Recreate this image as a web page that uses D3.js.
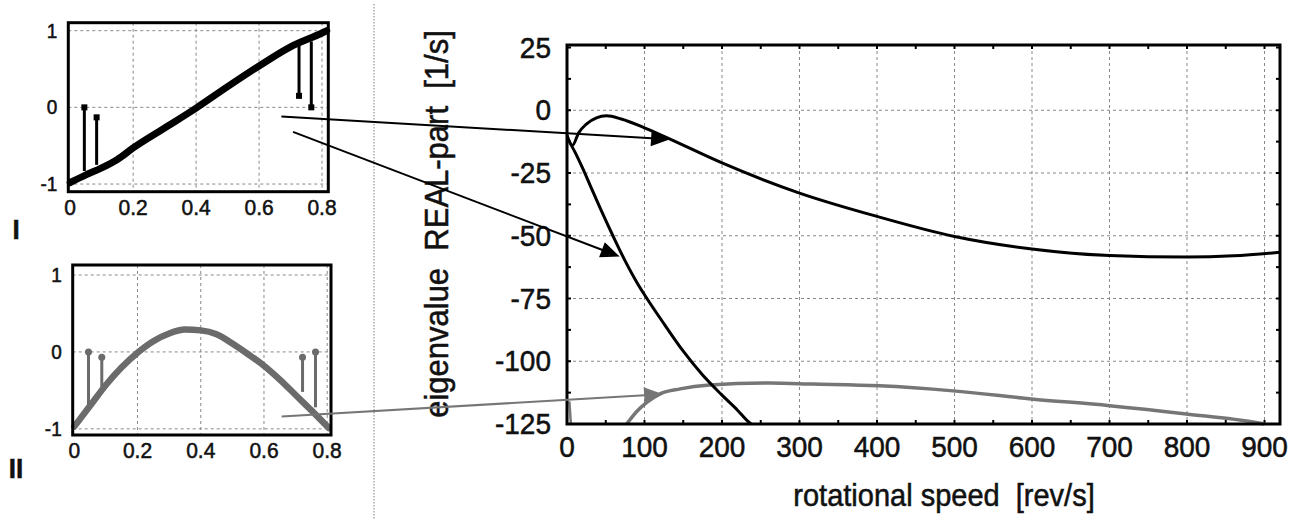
<!DOCTYPE html>
<html>
<head>
<meta charset="UTF-8">
<title>eigenvalue real part</title>
<script src="https://d3js.org/d3.v7.min.js"></script>
<style>
  body { margin: 0; background: #fff; }
  svg { display: block; }
  text { font-family: "Liberation Sans", Arial, sans-serif; fill: #111; white-space: pre; }
</style>
</head>
<body>
<svg width="1295" height="520"></svg>
<script>
// main chart: real part of eigenvalues vs rotational speed
const speedTicks = [0, 100, 200, 300, 400, 500, 600, 700, 800, 900];
const realTicks = [25, 0, -25, -50, -75, -100, -125];

const modeUpper = [
  [0, -10], [7, -14], [15, -9], [25, -5.5], [38, -3], [51, -2.2], [70, -3.5],
  [100, -7], [128, -10.8], [200, -21], [300, -33], [400, -42.3], [500, -50.3],
  [600, -55.3], [700, -57.9], [800, -58.5], [860, -58], [920, -56.6]
];
const modeSteep = [
  [2, -12], [10, -16.5], [20, -23], [30, -30], [45, -40.5], [60, -50.5], [75, -60],
  [90, -68.5], [100, -73.5], [125, -85], [150, -96], [175, -105.5], [200, -113.5],
  [220, -119.5], [236, -124.6], [238, -125]
];
const modeGray = [
  [77, -125], [90, -120], [103, -116.4], [120, -113], [146, -111], [184, -109.5],
  [262, -108.7], [317, -109.1], [403, -109.8], [498, -111.8], [599, -115],
  [700, -117.7], [799, -121], [889, -124.4], [900, -125]
];
const modeGrayStub = [[3, -116], [5, -125]];

// inset I / II: mode shapes along the rotor
const shapeTicksX = [0, 0.2, 0.4, 0.6, 0.8];
const shapeTicksY = [1, 0, -1];
const shapeI = [
  [0, -0.98], [0.05, -0.88], [0.1, -0.79], [0.15, -0.68], [0.2, -0.53],
  [0.3, -0.27], [0.4, -0.01], [0.5, 0.27], [0.6, 0.54], [0.7, 0.79],
  [0.8, 0.97], [0.815, 1.0]
];
const stemsI = [[0.045, -0.83, 0.0], [0.084, -0.75, -0.13], [0.727, 0.8, 0.15], [0.766, 0.86, 0.0]];
const shapeII = [
  [0, -0.97], [0.05, -0.7], [0.1, -0.43], [0.15, -0.2], [0.2, -0.01], [0.25, 0.14],
  [0.3, 0.24], [0.35, 0.29], [0.4, 0.28], [0.45, 0.23], [0.5, 0.11], [0.55, -0.03],
  [0.6, -0.18], [0.65, -0.36], [0.7, -0.56], [0.75, -0.76], [0.805, -0.99]
];
const stemsII = [[0.045, -0.7, 0.0], [0.087, -0.46, -0.07], [0.722, -0.52, -0.07], [0.763, -0.72, 0.0]];

const svg = d3.select("svg");
svg.append("rect").attr("width", 1295).attr("height", 520).attr("fill", "#fff");

const SY = 1.06; // text in the picture is a bit stretched vertically
function label(g, x, y, str, size, anchor, weight, rot) {
  return g.append("text")
    .attr("transform", `translate(${x},${y})` + (rot ? ` rotate(${rot})` : "") + ` scale(1,${SY})`)
    .attr("text-anchor", anchor || "middle")
    .attr("font-size", size)
    .attr("font-weight", weight || "normal")
    .attr("stroke", "#111").attr("stroke-width", 0.5)
    .text(str);
}

// ---------- main plot ----------
const x = d3.scaleLinear().domain([0, 920]).range([567, 1280]);
const y = d3.scaleLinear().domain([-125, 26]).range([424, 45]);
const main = svg.append("g");

// grid
main.append("g").selectAll("line").data(speedTicks.filter(d => d > 0)).join("line")
  .attr("x1", d => x(d)).attr("x2", d => x(d)).attr("y1", y(26)).attr("y2", y(-125))
  .attr("stroke", "#888").attr("stroke-width", 1).attr("stroke-dasharray", "3,3");
main.append("g").selectAll("line").data(realTicks.filter(d => d < 25 && d > -125)).join("line")
  .attr("x1", x(0)).attr("x2", x(920)).attr("y1", d => y(d)).attr("y2", d => y(d))
  .attr("stroke", "#888").attr("stroke-width", 1).attr("stroke-dasharray", "3,3");

// minor ticks inward on all sides
const minorX = d3.range(0, 921, 50);
const minorY = d3.range(-125, 26, 12.5);
main.append("g").selectAll("line").data(minorX).join("line")
  .attr("x1", d => x(d)).attr("x2", d => x(d)).attr("y1", y(26)).attr("y2", y(26) + 4)
  .attr("stroke", "#000").attr("stroke-width", 2);
main.append("g").selectAll("line").data(minorX).join("line")
  .attr("x1", d => x(d)).attr("x2", d => x(d)).attr("y1", y(-125)).attr("y2", y(-125) - 4)
  .attr("stroke", "#000").attr("stroke-width", 2);
main.append("g").selectAll("line").data(minorY).join("line")
  .attr("x1", x(0)).attr("x2", x(0) + 4).attr("y1", d => y(d)).attr("y2", d => y(d))
  .attr("stroke", "#000").attr("stroke-width", 2);
main.append("g").selectAll("line").data(minorY).join("line")
  .attr("x1", x(920)).attr("x2", x(920) - 4).attr("y1", d => y(d)).attr("y2", d => y(d))
  .attr("stroke", "#000").attr("stroke-width", 2);

const line = d3.line().x(d => x(d[0])).y(d => y(d[1])).curve(d3.curveMonotoneX);
main.append("path").datum(modeGray).attr("d", line)
  .attr("fill", "none").attr("stroke", "#767676").attr("stroke-width", 3.5);
main.append("path").datum(modeGrayStub).attr("d", d3.line().x(d => x(d[0])).y(d => y(d[1])))
  .attr("fill", "none").attr("stroke", "#767676").attr("stroke-width", 2.5);
main.append("path").datum(modeUpper).attr("d", line)
  .attr("fill", "none").attr("stroke", "#000").attr("stroke-width", 3);
main.append("path").datum(modeSteep).attr("d", line)
  .attr("fill", "none").attr("stroke", "#000").attr("stroke-width", 3);

// frame
main.append("rect").attr("x", x(0)).attr("y", y(26)).attr("width", x(920) - x(0)).attr("height", y(-125) - y(26))
  .attr("fill", "none").attr("stroke", "#000").attr("stroke-width", 3);

// tick labels
realTicks.forEach(v => label(main, x(0) - 16, y(v) + 10, v, 28, "end"));
speedTicks.forEach(v => label(main, x(v), y(-125) + 33, v, 28, "middle"));

// axis titles
label(svg, 944, 506, "rotational speed  [rev/s]", 29, "middle", "normal");
label(svg, 448, 224, "eigenvalue  REAL-part  [1/s]", 31, "middle", "normal", -90);

// ---------- insets ----------
function inset(cfg) {
  const g = svg.append("g");
  const sx = d3.scaleLinear().domain(cfg.dx).range(cfg.rx);
  const sy = d3.scaleLinear().domain(cfg.dy).range(cfg.ry);
  g.append("g").selectAll("line").data(shapeTicksX.filter(d => d > 0)).join("line")
    .attr("x1", d => sx(d)).attr("x2", d => sx(d)).attr("y1", cfg.ry[1]).attr("y2", cfg.ry[0])
    .attr("stroke", "#888").attr("stroke-dasharray", "3,3");
  g.append("g").selectAll("line").data(shapeTicksY).join("line")
    .attr("x1", cfg.rx[0]).attr("x2", cfg.rx[1]).attr("y1", d => sy(d)).attr("y2", d => sy(d))
    .attr("stroke", "#888").attr("stroke-dasharray", "3,3");
  const ln = d3.line().x(d => sx(d[0])).y(d => sy(d[1])).curve(d3.curveMonotoneX);
  g.append("g").selectAll("line").data(cfg.stems).join("line")
    .attr("x1", d => sx(d[0])).attr("x2", d => sx(d[0])).attr("y1", d => sy(d[1])).attr("y2", d => sy(d[2]))
    .attr("stroke", cfg.color).attr("stroke-width", 3);
  if (cfg.marker === "square") {
    g.append("g").selectAll("rect").data(cfg.stems).join("rect")
      .attr("x", d => sx(d[0]) - 3).attr("y", d => sy(d[2]) - 3).attr("width", 6).attr("height", 6)
      .attr("fill", cfg.color);
  } else {
    g.append("g").selectAll("circle").data(cfg.stems).join("circle")
      .attr("cx", d => sx(d[0])).attr("cy", d => sy(d[2])).attr("r", 3.5)
      .attr("fill", cfg.color);
  }
  g.append("path").datum(cfg.shape).attr("d", ln)
    .attr("fill", "none").attr("stroke", cfg.color).attr("stroke-width", cfg.width).attr("stroke-linecap", "round");
  g.append("rect").attr("x", cfg.rx[0]).attr("y", cfg.ry[1])
    .attr("width", cfg.rx[1] - cfg.rx[0]).attr("height", cfg.ry[0] - cfg.ry[1])
    .attr("fill", "none").attr("stroke", "#000").attr("stroke-width", 3);
  shapeTicksY.forEach(v => label(g, cfg.rx[0] - 11, sy(v) + 7, v, 19, "end"));
  shapeTicksX.forEach(v => label(g, sx(v), cfg.ry[0] + 23, v, 21, "middle"));
  label(g, 16, cfg.roman[1], cfg.roman[0], 26, "middle", "bold");
  return { sx, sy };
}

const insI = inset({
  dx: [-0.006, 0.82], rx: [68.3, 328.3], dy: [-1.1, 1.104], ry: [191.7, 22.7],
  shape: shapeI, stems: stemsI, color: "#000", marker: "square", width: 7, roman: ["I", 239]
});
const insII = inset({
  dx: [-0.005, 0.812], rx: [72.7, 331], dy: [-1.08, 1.13], ry: [435, 265],
  shape: shapeII, stems: stemsII, color: "#6b6b6b", marker: "circle", width: 6.5, roman: ["II", 478]
});

// separator
svg.append("line").attr("x1", 374).attr("x2", 374).attr("y1", 4).attr("y2", 520)
  .attr("stroke", "#aaa").attr("stroke-width", 1.5).attr("stroke-dasharray", "1.5,1.5");

// arrows from inset mode shapes to the curves
const arrows = [
  { from: [insI, 0.671, -0.12], to: [133, -11.6], color: "#000" },
  { from: [insI, 0.708, -0.32], to: [68, -58.3], color: "#000" },
  { from: [insII, 0.656, -0.84], to: [124, -113.1], color: "#767676" }
];
arrows.forEach(a => {
  const x1 = a.from[0].sx(a.from[1]), y1 = a.from[0].sy(a.from[2]);
  const x2 = x(a.to[0]), y2 = y(a.to[1]);
  const ang = Math.atan2(y2 - y1, x2 - x1);
  svg.append("line").attr("x1", x1).attr("y1", y1)
    .attr("x2", x2 - 10 * Math.cos(ang)).attr("y2", y2 - 10 * Math.sin(ang))
    .attr("stroke", a.color).attr("stroke-width", 2);
  svg.append("path").attr("d", "M0,0 L-19,-8 L-19,8 Z")
    .attr("transform", `translate(${x2},${y2}) rotate(${ang * 180 / Math.PI})`)
    .attr("fill", a.color);
});
</script>
</body>
</html>
